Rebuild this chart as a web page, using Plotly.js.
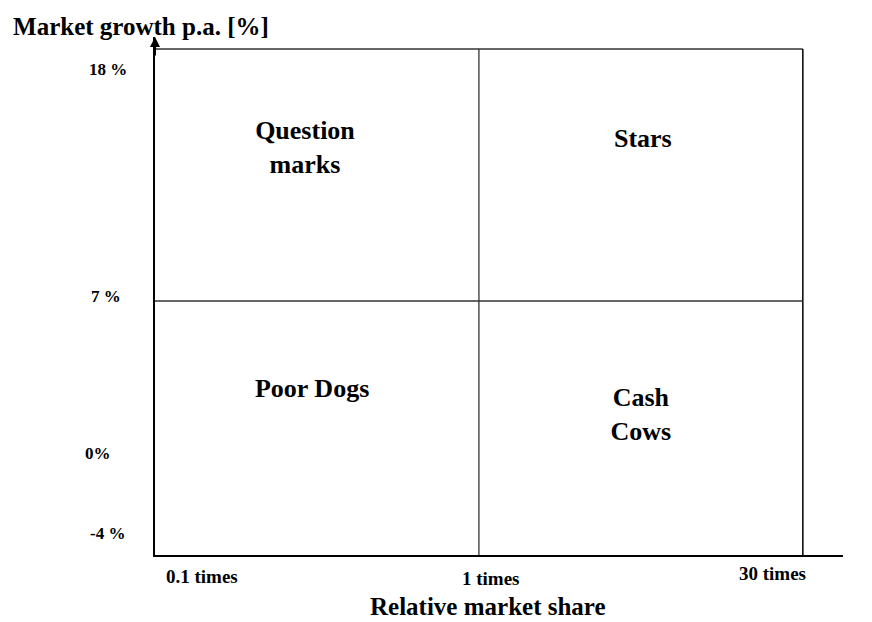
<!DOCTYPE html>
<html>
<head>
<meta charset="utf-8">
<script src="https://cdn.plot.ly/plotly-3.0.1.min.js"></script>
<style>html,body{margin:0;padding:0;background:#fff;}#chart{width:872px;height:622px;}</style>
</head>
<body>
<div id="chart"></div>
<script>
// Data
var xTickLabels = ["0.1 times", "1 times", "30 times"];
var xTickVals = [0, 1, 2];
var yTickLabels = ["18 %", "7 %", "0%", "-4 %"];
var yTickVals = [18, 7, 0, -4];
var quadrantNames = ["Question<br>marks", "Stars", "Poor Dogs", "Cash<br>Cows"];
var xSplit = 1;
var ySplit = 7;
var xMax = 2;
var yMax = 18;
var xTitle = "Relative market share";
var yTitle = "Market growth p.a. [%]";

// Style / placement
var xTickShift = [47, 12, -30];
var xTickYShift = [-21, -23, -18];
var yTickShift = [-21, 4, 8, 19];
var yTickXShift = [-47, -49, -57, -48];
var quadX = [0.463, 1.506, 0.485, 1.5];
var quadY = [13.6, 14.0, 3.1, 1.95];
var FONT = "Liberation Serif, Times New Roman, serif";
var yLo = -4.09, yHi = 18.52, xHi = 2.124;

var annotations = [];
xTickLabels.forEach(function(t, i) {
  annotations.push({x: xTickVals[i], y: 0, xref: 'x', yref: 'paper', yanchor: 'middle',
    text: '<b>' + t + '</b>', showarrow: false, xshift: xTickShift[i], yshift: xTickYShift[i],
    font: {family: FONT, size: 19, color: '#000'}});
});
yTickLabels.forEach(function(t, i) {
  annotations.push({x: 0, y: yTickVals[i], xref: 'paper', yref: 'y', xanchor: 'center',
    text: '<b>' + t + '</b>', showarrow: false, xshift: yTickXShift[i], yshift: yTickShift[i],
    font: {family: FONT, size: 17, color: '#000'}});
});
// x axis title
annotations.push({x: 0.484, y: 0, xref: 'paper', yref: 'paper', yanchor: 'middle', showarrow: false,
  text: '<b>' + xTitle + '</b>', yshift: -51, font: {family: FONT, size: 25, color: '#000'}});
// arrow on y axis
annotations.push({x: 0, y: yHi, xref: 'x', yref: 'y', ax: 0, ay: 20, axref: 'pixel', ayref: 'pixel',
  showarrow: true, arrowhead: 2, arrowsize: 1, arrowwidth: 2, arrowcolor: '#000', text: ''});

var trace = {
  x: quadX, y: quadY, mode: 'text', type: 'scatter',
  text: quadrantNames.map(function(n){return '<b>' + n + '</b>';}),
  textfont: {family: FONT, size: 26, color: '#000'},
  hoverinfo: 'none', showlegend: false, cliponaxis: false
};

var shapes = [
  {type: 'line', xref: 'x', yref: 'y', x0: 0, x1: xMax, y0: yMax, y1: yMax, line: {color: '#666', width: 2}},
  {type: 'line', xref: 'x', yref: 'y', x0: xMax, x1: xMax, y0: yLo, y1: yMax, line: {color: '#000', width: 1.5}},
  {type: 'line', xref: 'x', yref: 'y', x0: xSplit, x1: xSplit, y0: yLo, y1: yMax, line: {color: '#333', width: 1.3}},
  {type: 'line', xref: 'x', yref: 'y', x0: 0, x1: xMax, y0: ySplit, y1: ySplit, line: {color: '#333', width: 1.5}}
];

var layout = {
  width: 872, height: 622,
  margin: {l: 155, r: 29, t: 37, b: 67},
  paper_bgcolor: '#fff', plot_bgcolor: '#fff',
  showlegend: false,
  title: {text: '<b>' + yTitle + '</b>', x: 0.015, xanchor: 'left', y: 0.958, yanchor: 'middle',
    font: {family: FONT, size: 25, color: '#000'}},
  xaxis: {range: [0, xHi], showgrid: false, zeroline: false, showticklabels: false, ticks: '',
    showline: true, linecolor: '#000', linewidth: 2, fixedrange: true},
  yaxis: {range: [yLo, yHi], showgrid: false, zeroline: false, showticklabels: false, ticks: '',
    showline: true, linecolor: '#000', linewidth: 2, fixedrange: true},
  shapes: shapes,
  annotations: annotations
};

Plotly.newPlot('chart', [trace], layout, {displayModeBar: false, staticPlot: true});
</script>
</body>
</html>
